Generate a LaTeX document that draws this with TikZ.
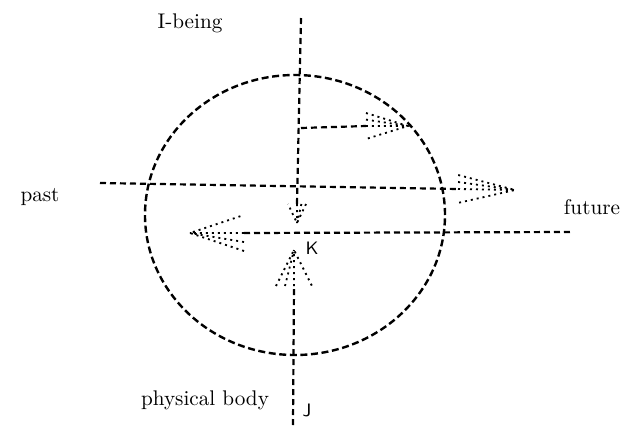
\documentclass[tikz,border=0pt]{standalone}
\usetikzlibrary{calc}

\begin{document}
\begin{tikzpicture}[
  ring/.style     = {dash pattern=on 3.5pt off 1.8pt, line width=1.2pt},
  axisline/.style = {dash pattern=on 3pt off 2pt, line width=1.1pt},
  headline/.style = {dash pattern=on 1pt off 2pt, line width=0.9pt},
  lbl/.style      = {font=\fontsize{10.6}{12}\selectfont, inner sep=0pt},
  x=0.5pt, y=-0.5pt,
]
  \useasboundingbox (0,0) rectangle (629,430);

  % circle
  \coordinate (o) at (295,215);
  \draw[ring] (o) ellipse [x radius=75pt, y radius=70pt];

  % ends and arrow tips
  \coordinate (top)       at (301,18);
  \coordinate (downbase)  at (297,204);
  \coordinate (downtip)   at (297,223);
  \coordinate (bot)       at (293,425);
  \coordinate (upbase)    at (294,286);
  \coordinate (uptip)     at (294,250);
  \coordinate (pastend)   at (100,183);
  \coordinate (futbase)   at (458,189);
  \coordinate (futtip)    at (515,190);
  \coordinate (rend)      at (570,232);
  \coordinate (leftbase)  at (244,233);
  \coordinate (lefttip)   at (190,233);
  \coordinate (branch)    at (301,128);
  \coordinate (smallbase) at (366,126);
  \coordinate (smalltip)  at (408,126);

  % shafts
  \draw[axisline] (top) -- (downbase);
  \draw[axisline] (bot) -- (upbase);
  \draw[axisline] (pastend) -- (futbase);
  \draw[axisline] (rend) -- (leftbase);
  \draw[axisline] (branch) -- (smallbase);

  % dotted heads
  \foreach \t/\b/\w/\v in {futtip/futbase/7pt/3.5pt, smalltip/smallbase/6.5pt/3.2pt,
                           lefttip/leftbase/9pt/4.5pt, uptip/upbase/9pt/4.5pt,
                           downtip/downbase/4.5pt/2.2pt}
    \draw[headline] ($(\b)!\w!90:(\t)$) -- (\t) -- ($(\b)!\w!-90:(\t)$)
                    ($(\b)!\v!90:(\t)$) -- (\t)
                    (\b) -- (\t);

  % labels
  \node[lbl] (ibeing) at (190,23)  {I-being};
  \node[lbl] (past)   at (40,197)  {past};
  \node[lbl] (future) at (592,207) {future};
  \node[lbl] (body)   at (205,400) {physical body};
  \node[font=\sffamily\small, inner sep=0pt] (k) at (312,248) {K};
  \node[font=\sffamily\small, inner sep=0pt] (j) at (307,410) {J};
\end{tikzpicture}
\end{document}
